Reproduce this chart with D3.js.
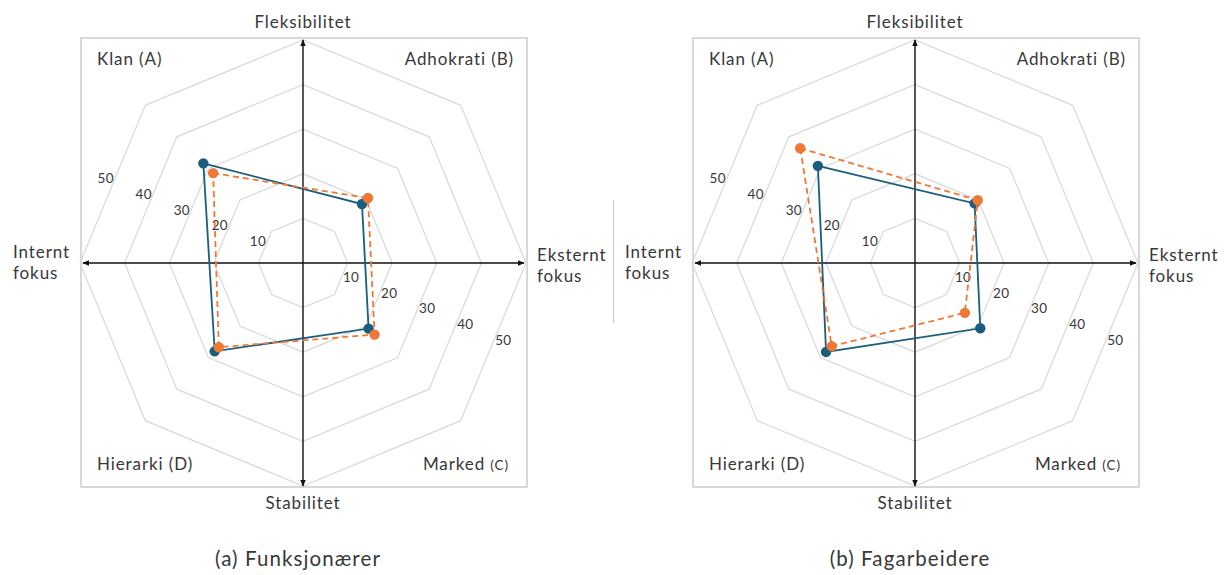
<!DOCTYPE html>
<html>
<head>
<meta charset="utf-8">
<script src="https://cdn.jsdelivr.net/npm/d3@7"></script>
<style>
  html, body { margin: 0; padding: 0; background: #fff; }
  svg { display: block; font-family: Lato, "Open Sans", sans-serif; }
</style>
</head>
<body>
<svg id="chart" width="1226" height="575"></svg>
<script>
// Culture profile quadrants, placed on the diagonals of the competing-values frame
const quadrants = ["Klan (A)", "Adhokrati (B)", "Marked (C)", "Hierarki (D)"];
const quadrantAngles = [135, 45, -45, -135];   // degrees, counter-clockwise from east
const ringTicks = [10, 20, 30, 40, 50];
const panelTitles = ["(a) Funksjonærer", "(b) Fagarbeidere"];

// Scores per quadrant (A, B, C, D)
const funksjonaererSolid = [31.6, 18.7, 20.8, 28.0];
const funksjonaererDashed = [28.5, 20.6, 22.7, 26.7];
const fagarbeidereSolid = [30.8, 18.9, 20.7, 28.2];
const fagarbeidereDashed = [36.4, 19.9, 15.8, 26.4];

const panels = [
  { cx: 303, cy: 263, title: panelTitles[0], solid: funksjonaererSolid, dashed: funksjonaererDashed },
  { cx: 915, cy: 263, title: panelTitles[1], solid: fagarbeidereSolid, dashed: fagarbeidereDashed }
];

const solidColor = "#1a5e7c";
const dashedColor = "#ef7834";
const textColor = "#383838";

const svg = d3.select("#chart");
const r = d3.scaleLinear().domain([0, 50]).range([0, 223]);
const rad = d => d * Math.PI / 180;

// arrow marker for the axes
const defs = svg.append("defs");
defs.append("marker")
  .attr("id", "arrow")
  .attr("viewBox", "0 0 10 10")
  .attr("refX", 9).attr("refY", 5)
  .attr("markerWidth", 7).attr("markerHeight", 7)
  .attr("markerUnits", "userSpaceOnUse")
  .attr("orient", "auto-start-reverse")
  .append("path").attr("d", "M0,1 L10,5 L0,9 Z").attr("fill", "#111");

// thin divider between the panels
svg.append("line")
  .attr("x1", 613.5).attr("x2", 613.5).attr("y1", 200).attr("y2", 323)
  .attr("stroke", "#c8c8c8").attr("stroke-width", 1);

panels.forEach(p => {
  const g = svg.append("g");
  const pt = (angle, v) => [p.cx + r(v) * Math.cos(rad(angle)), p.cy - r(v) * Math.sin(rad(angle))];

  // frame
  g.append("rect")
    .attr("x", p.cx - 222).attr("y", 38)
    .attr("width", 446).attr("height", 449)
    .attr("fill", "none").attr("stroke", "#c4c4c4").attr("stroke-width", 1.3);

  // octagonal grid rings
  const octAngles = d3.range(8).map(i => i * 45);
  const ringLine = d3.line().curve(d3.curveLinearClosed);
  g.selectAll(".ring").data(ringTicks).join("path")
    .attr("d", v => ringLine(octAngles.map(a => pt(a, v))))
    .attr("fill", "none").attr("stroke", "#dadada").attr("stroke-width", 1.3);

  // axes with arrowheads at both ends
  g.append("line")
    .attr("x1", p.cx - 220).attr("x2", p.cx + 221).attr("y1", p.cy).attr("y2", p.cy)
    .attr("stroke", "#111").attr("stroke-width", 1.4)
    .attr("marker-start", "url(#arrow)").attr("marker-end", "url(#arrow)");
  g.append("line")
    .attr("x1", p.cx).attr("x2", p.cx).attr("y1", 40).attr("y2", 486)
    .attr("stroke", "#111").attr("stroke-width", 1.4)
    .attr("marker-start", "url(#arrow)").attr("marker-end", "url(#arrow)");

  // ring value labels, along the upper-left and lower-right edges
  const mid = Math.cos(rad(22.5));
  const tickText = sel => sel
    .attr("text-anchor", "middle").attr("dominant-baseline", "central")
    .attr("font-size", 13.5).attr("letter-spacing", 0.3).attr("fill", textColor)
    .text(d => d);
  g.selectAll(".tickUL").data(ringTicks).join("text")
    .attr("x", v => p.cx - r(v) * mid * Math.cos(rad(22.5)) - 7)
    .attr("y", v => p.cy - r(v) * mid * Math.sin(rad(22.5)) - 6)
    .call(tickText);
  g.selectAll(".tickLR").data(ringTicks).join("text")
    .attr("x", v => p.cx + r(v) * mid * Math.cos(rad(22.5)) + 10)
    .attr("y", v => p.cy + r(v) * mid * Math.sin(rad(22.5)) - 2)
    .call(tickText);

  // profiles
  const profileLine = d3.line().curve(d3.curveLinearClosed);
  const drawProfile = (vals, color, dash) => {
    const pts = vals.map((v, i) => pt(quadrantAngles[i], v));
    g.append("path")
      .attr("d", profileLine(pts))
      .attr("fill", "none").attr("stroke", color).attr("stroke-width", 1.8)
      .attr("stroke-dasharray", dash);
    g.selectAll(null).data(pts).join("circle")
      .attr("cx", d => d[0]).attr("cy", d => d[1]).attr("r", 5.2)
      .attr("fill", color);
  };
  drawProfile(p.solid, solidColor, null);
  drawProfile(p.dashed, dashedColor, "6,4");

  // axis names
  const fs = 17, ls = 0.9;
  const axisText = (x, y, lines, anchor) => {
    const t = g.append("text").attr("x", x).attr("y", y)
      .attr("text-anchor", anchor).attr("font-size", fs).attr("letter-spacing", ls)
      .attr("fill", textColor);
    lines.forEach((l, i) => t.append("tspan").attr("x", x).attr("dy", i ? 21 : 0).text(l));
  };
  axisText(p.cx, 28, ["Fleksibilitet"], "middle");
  axisText(p.cx, 509, ["Stabilitet"], "middle");
  axisText(p.cx - 290, 258, ["Internt", "fokus"], "start");
  axisText(p.cx + 234, 261, ["Eksternt", "fokus"], "start");

  // quadrant names
  const qText = (x, y, anchor) => g.append("text").attr("x", x).attr("y", y)
    .attr("text-anchor", anchor).attr("font-size", fs).attr("letter-spacing", ls)
    .attr("fill", textColor);
  qText(p.cx - 206, 65, "start").text(quadrants[0]);
  qText(p.cx + 211, 65, "end").text(quadrants[1]);
  qText(p.cx - 206, 470, "start").text(quadrants[3]);
  const m = qText(p.cx + 206, 470, "end");
  const parts = quadrants[2].split(" ");
  m.append("tspan").text(parts[0] + " ");
  m.append("tspan").attr("font-size", 13.5).text(parts[1]);

  // panel caption
  g.append("text").attr("x", p.cx - 5).attr("y", 566)
    .attr("text-anchor", "middle").attr("font-size", 20.5).attr("letter-spacing", 1.1)
    .attr("fill", textColor)
    .text(p.title);
});
</script>
</body>
</html>
